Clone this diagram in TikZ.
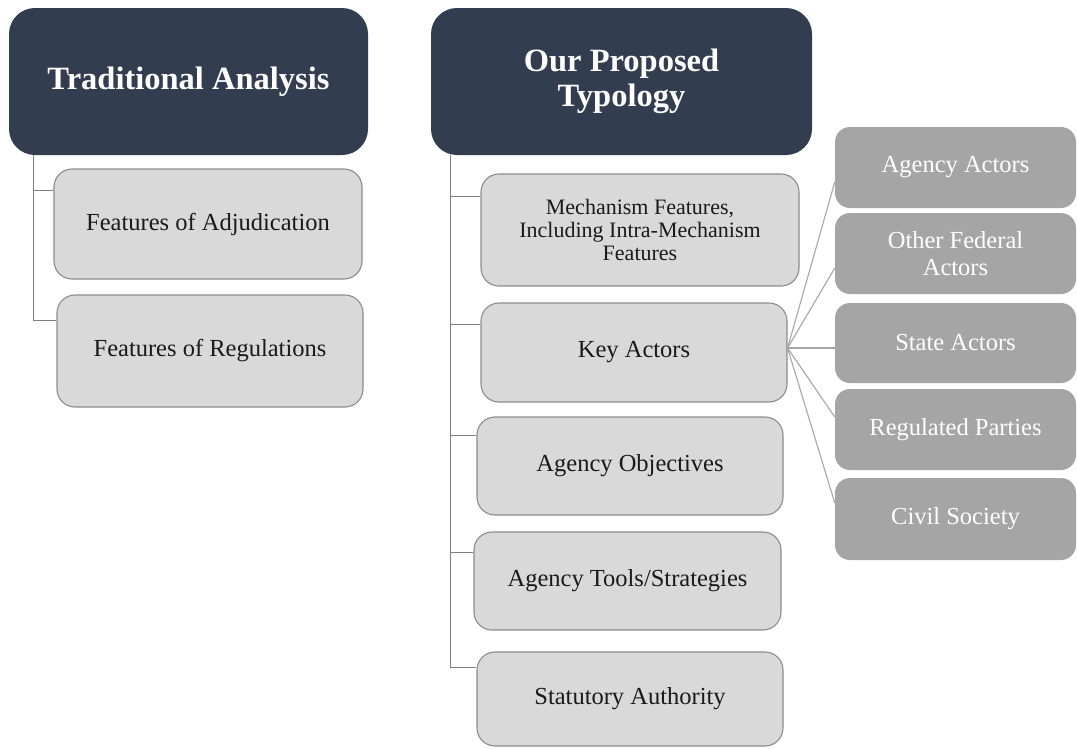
\documentclass[tikz,border=0pt]{standalone}
\usepackage{fontspec}
\setmainfont{Liberation Serif}
\definecolor{navy}{HTML}{323D50}
\definecolor{lightbox}{HTML}{D9D9D9}
\definecolor{lightborder}{HTML}{8C8C8C}
\definecolor{midbox}{HTML}{A5A5A5}
\definecolor{treeline}{HTML}{7F7F7F}
\definecolor{fanline}{HTML}{A6A6A6}
\definecolor{textdark}{HTML}{1A1A1A}
\tikzset{
  titlebox/.style={draw=none, fill=navy, rounded corners=26pt, text=white,
    font=\fontsize{32.5}{35}\selectfont\bfseries, align=center, inner sep=0pt},
  lightnode/.style={draw=lightborder, line width=1.1pt, fill=lightbox, rounded corners=18pt,
    text=textdark, font=\fontsize{24.5}{27}\selectfont, align=center, inner sep=0pt},
  mechfont/.style={font=\fontsize{22}{23}\selectfont},
  actorbox/.style={draw=none, fill=midbox, rounded corners=15pt, text=white,
    font=\fontsize{24.5}{27}\selectfont, align=center, inner sep=0pt,
    minimum width=241pt},
  tree/.style={draw=treeline, line width=1.2pt},
  fan/.style={draw=fanline, line width=1.1pt}
}
\begin{document}
\begin{tikzpicture}[x=1pt,y=-1pt]
\useasboundingbox (0,0) rectangle (1077,748);
\fill[white] (0,0) rectangle (1077,748);

% left column
\node[titlebox, minimum width=359pt, minimum height=147pt] (trad) at (188.5,81.5) {Traditional Analysis};
\node[lightnode, minimum width=308pt, minimum height=110pt] (adj) at (208,224) {Features of Adjudication};
\node[lightnode, minimum width=306pt, minimum height=112pt] (reg) at (210,351) {Features of Regulations};

% middle column
\node[titlebox, minimum width=381pt, minimum height=147pt] (prop) at (621.5,81.5) {Our Proposed\\Typology};
\node[lightnode, mechfont, minimum width=318pt, minimum height=112pt] (mech) at (640,230) {Mechanism Features,\\Including Intra-Mechanism\\Features};
\node[lightnode, minimum width=306pt, minimum height=99pt] (key) at (634,352.5) {Key Actors};
\node[lightnode, minimum width=306pt, minimum height=98pt] (obj) at (630,466) {Agency Objectives};
\node[lightnode, minimum width=307pt, minimum height=98pt] (tools) at (627.5,581) {Agency Tools/Strategies};
\node[lightnode, minimum width=306pt, minimum height=94pt] (stat) at (630,699) {Statutory Authority};

% right column
\node[actorbox, minimum height=81pt] (ag) at (955.5,167.5) {Agency Actors};
\node[actorbox, minimum height=81pt] (of) at (955.5,253.5) {Other Federal\\Actors};
\node[actorbox, minimum height=80pt] (st) at (955.5,343) {State Actors};
\node[actorbox, minimum height=81pt] (rp) at (955.5,429.5) {Regulated Parties};
\node[actorbox, minimum height=82pt] (cs) at (955.5,519) {Civil Society};

% left tree connectors
\draw[tree] ([xshift=25pt]trad.south west) |- ([yshift=-22pt]adj.north west);
\draw[tree] ([xshift=25pt]trad.south west) |- ([yshift=-26pt]reg.north west);

% middle tree connectors
\draw[tree] ([xshift=20pt]prop.south west) |- ([yshift=-23pt]mech.north west);
\draw[tree] ([xshift=20pt]prop.south west) |- ([yshift=-22pt]key.north west);
\draw[tree] ([xshift=20pt]prop.south west) |- ([yshift=-19pt]obj.north west);
\draw[tree] ([xshift=20pt]prop.south west) |- ([yshift=-21pt]tools.north west);
\draw[tree] ([xshift=20pt]prop.south west) |- ([yshift=-16pt]stat.north west);

% fan connectors
\coordinate (fo) at ([yshift=4.5pt]key.east);
\draw[fan] (fo) -- ([yshift=-14.5pt]ag.west);
\draw[fan] (fo) -- ([yshift=-14.5pt]of.west);
\draw[fan] (fo) -- ([yshift=-5pt]st.west);
\draw[fan] (fo) -- ([yshift=12.5pt]rp.west);
\draw[fan] (fo) -- ([yshift=16pt]cs.west);
\end{tikzpicture}
\end{document}
